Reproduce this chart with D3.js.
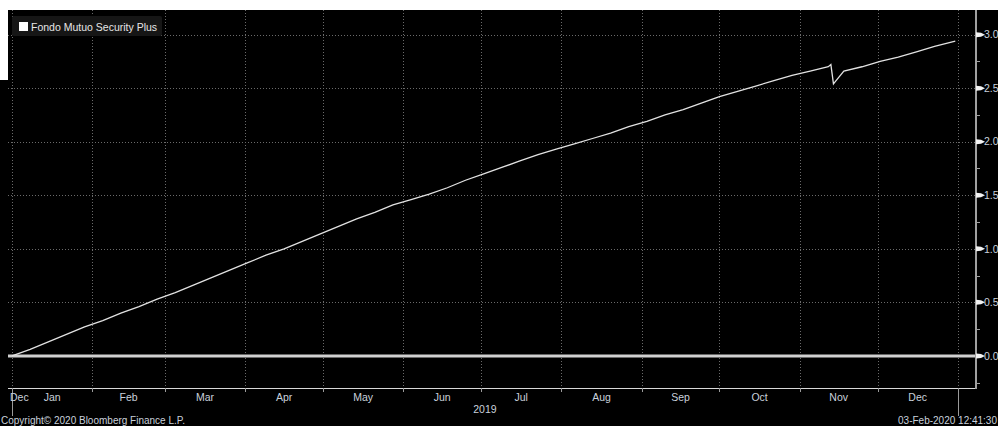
<!DOCTYPE html>
<html>
<head>
<meta charset="utf-8">
<script src="https://cdn.jsdelivr.net/npm/d3@7"></script>
<style>
  html, body { margin: 0; padding: 0; background: #fff; }
  svg { display: block; }
  text { font-family: "Liberation Sans", Arial, sans-serif; }
</style>
</head>
<body>
<script>
// series (weekly, plus the mid-November dip)
const dates = [
  "2019-01-01","2019-01-08","2019-01-15","2019-01-22","2019-01-29",
  "2019-02-05","2019-02-12","2019-02-19","2019-02-26",
  "2019-03-05","2019-03-12","2019-03-19","2019-03-26",
  "2019-04-02","2019-04-09","2019-04-16","2019-04-23","2019-04-30",
  "2019-05-07","2019-05-14","2019-05-21","2019-05-28",
  "2019-06-04","2019-06-11","2019-06-18","2019-06-25",
  "2019-07-02","2019-07-09","2019-07-16","2019-07-23","2019-07-30",
  "2019-08-06","2019-08-13","2019-08-20","2019-08-27",
  "2019-09-03","2019-09-10","2019-09-17","2019-09-24",
  "2019-10-01","2019-10-08","2019-10-15","2019-10-22","2019-10-29",
  "2019-11-05","2019-11-12","2019-11-13","2019-11-14","2019-11-15","2019-11-18","2019-11-25",
  "2019-12-02","2019-12-09","2019-12-16","2019-12-23","2019-12-31"
];
const values = [
  0.00, 0.06, 0.13, 0.20, 0.27,
  0.33, 0.40, 0.46, 0.53,
  0.59, 0.66, 0.73, 0.80,
  0.87, 0.94, 1.00, 1.07, 1.14,
  1.21, 1.28, 1.34, 1.41,
  1.46, 1.51, 1.57, 1.64,
  1.70, 1.76, 1.82, 1.88, 1.93,
  1.98, 2.03, 2.08, 2.14,
  2.19, 2.25, 2.30, 2.36,
  2.42, 2.47, 2.52, 2.57, 2.62,
  2.66, 2.70, 2.72, 2.54, 2.57, 2.66, 2.70,
  2.75, 2.79, 2.84, 2.89, 2.94
];
const yTicks = [0.0, 0.5, 1.0, 1.5, 2.0, 2.5, 3.0];
const yMinor = [-0.25, 0.25, 0.75, 1.25, 1.75, 2.25, 2.75];
const monthLabels = ["Jan","Feb","Mar","Apr","May","Jun","Jul","Aug","Sep","Oct","Nov","Dec"];
const seriesName = "Fondo Mutuo Security Plus";

const width = 998, height = 426;
const plot = { left: 8, top: 10, right: 976, bottom: 388 };
const txt = "#c9d1dc";

const parse = d3.timeParse("%Y-%m-%d");
const data = dates.map((d, i) => ({ date: parse(d), value: values[i] }));

const x = d3.scaleTime()
  .domain([new Date(2018, 11, 30, 11), new Date(2020, 0, 8)])
  .range([plot.left, plot.right]);
const y = d3.scaleLinear()
  .domain([-0.30, 3.23])
  .range([plot.bottom, plot.top]);

const svg = d3.select("body").append("svg")
  .attr("width", width)
  .attr("height", height);

// background
svg.append("rect").attr("width", width).attr("height", height).attr("fill", "#000");
svg.append("rect").attr("width", width).attr("height", plot.top).attr("fill", "#fff");
svg.append("rect").attr("width", plot.left).attr("height", 80).attr("fill", "#fff");

const g = svg.append("g");

// month boundaries
const months = d3.timeMonth.range(new Date(2019, 0, 1), new Date(2020, 0, 2));

g.selectAll(".vgrid")
  .data(months)
  .join("line")
  .attr("class", "vgrid")
  .attr("x1", d => Math.round(x(d)) + 0.5)
  .attr("x2", d => Math.round(x(d)) + 0.5)
  .attr("y1", plot.top)
  .attr("y2", plot.bottom)
  .attr("stroke", "#6a6a6a")
  .attr("stroke-width", 1)
  .attr("stroke-dasharray", "1,2");

g.selectAll(".hgrid")
  .data(yTicks.filter(d => d !== 0))
  .join("line")
  .attr("class", "hgrid")
  .attr("x1", plot.left)
  .attr("x2", plot.right)
  .attr("y1", d => Math.round(y(d)) + 0.5)
  .attr("y2", d => Math.round(y(d)) + 0.5)
  .attr("stroke", "#6a6a6a")
  .attr("stroke-width", 1)
  .attr("stroke-dasharray", "1,2");

// zero line
g.append("line")
  .attr("x1", plot.left)
  .attr("x2", plot.right)
  .attr("y1", y(0))
  .attr("y2", y(0))
  .attr("stroke", "#d0d0d0")
  .attr("stroke-width", 3);

// series
g.append("path")
  .datum(data)
  .attr("fill", "none")
  .attr("stroke", "#e2e2e2")
  .attr("stroke-width", 1.3)
  .attr("d", d3.line().x(d => x(d.date)).y(d => y(d.value)));

// bottom axis line
g.append("line")
  .attr("x1", plot.left)
  .attr("x2", plot.right)
  .attr("y1", plot.bottom + 0.5)
  .attr("y2", plot.bottom + 0.5)
  .attr("stroke", "#d8d8d8");

g.selectAll(".xtick")
  .data(months)
  .join("line")
  .attr("class", "xtick")
  .attr("x1", d => Math.round(x(d)) + 0.5)
  .attr("x2", d => Math.round(x(d)) + 0.5)
  .attr("y1", plot.bottom)
  .attr("y2", d => d.getMonth() === 0 ? plot.bottom + 28 : plot.bottom + 4)
  .attr("stroke", "#9a9a9a");

// month labels centred in each month
const monthEnds = months.slice(1);
g.selectAll(".mlabel")
  .data(monthEnds)
  .join("text")
  .attr("class", "mlabel")
  .attr("x", (d, i) => (x(months[i]) + x(d)) / 2)
  .attr("y", plot.bottom + 13)
  .attr("text-anchor", "middle")
  .attr("font-size", 10.5)
  .attr("fill", txt)
  .text((d, i) => monthLabels[i]);

g.append("text")
  .attr("x", plot.left + 2)
  .attr("y", plot.bottom + 13)
  .attr("font-size", 10.5)
  .attr("fill", txt)
  .text("Dec");

g.append("text")
  .attr("x", (x(months[0]) + x(months[12])) / 2)
  .attr("y", plot.bottom + 25)
  .attr("text-anchor", "middle")
  .attr("font-size", 10.5)
  .attr("fill", txt)
  .text("2019");

// right axis
g.append("line")
  .attr("x1", plot.right)
  .attr("x2", plot.right)
  .attr("y1", plot.top)
  .attr("y2", plot.bottom + 1)
  .attr("stroke", "#a0a0a0")
  .attr("stroke-width", 2);

g.selectAll(".minor")
  .data(yMinor)
  .join("line")
  .attr("class", "minor")
  .attr("x1", plot.right)
  .attr("x2", plot.right + 4)
  .attr("y1", d => Math.round(y(d)) + 0.5)
  .attr("y2", d => Math.round(y(d)) + 0.5)
  .attr("stroke", "#a0a0a0");

const ytk = g.selectAll(".ytk")
  .data(yTicks)
  .join("g")
  .attr("class", "ytk")
  .attr("transform", d => `translate(${plot.right},${y(d)})`);

ytk.append("path")
  .attr("d", "M0,-2.5L5,-2L9,0L5,2L0,2.5Z")
  .attr("fill", "#f2f2f2");

ytk.append("text")
  .attr("x", 8)
  .attr("dy", "0.36em")
  .attr("font-size", 10.5)
  .attr("fill", txt)
  .text(d3.format(".1f"));

// legend
const lg = g.append("g").attr("transform", "translate(12,16)");
lg.append("rect")
  .attr("width", 150)
  .attr("height", 20)
  .attr("rx", 2)
  .attr("fill", "#161616");
lg.append("rect")
  .attr("x", 7)
  .attr("y", 6)
  .attr("width", 9)
  .attr("height", 9)
  .attr("fill", "#fff");
lg.append("text")
  .attr("x", 19)
  .attr("y", 14.5)
  .attr("font-size", 10.5)
  .attr("fill", "#e6e6e6")
  .text(seriesName);

// footer
g.append("text")
  .attr("x", 1)
  .attr("y", 424)
  .attr("font-size", 10)
  .attr("fill", txt)
  .text("Copyright\u00a9 2020 Bloomberg Finance L.P.");

g.append("text")
  .attr("x", 997)
  .attr("y", 424)
  .attr("text-anchor", "end")
  .attr("font-size", 10)
  .attr("fill", txt)
  .text("03-Feb-2020 12:41:30");
</script>
</body>
</html>
